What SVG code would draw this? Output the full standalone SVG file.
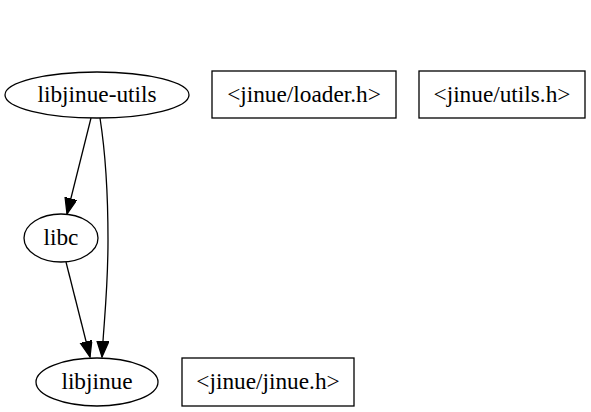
<svg xmlns="http://www.w3.org/2000/svg" width="591" height="412" viewBox="0 0 591 412">
<style>
.n{fill:#fff;stroke:#000;stroke-width:1.3}
.t{font-family:"Liberation Serif","Times New Roman",serif;font-size:23.3px;text-anchor:middle;fill:#000}
.e{fill:none;stroke:#000;stroke-width:1.3}
</style>
<defs>
<marker id="arr" markerUnits="userSpaceOnUse" markerWidth="18" markerHeight="14" refX="16" refY="6" orient="auto">
<polygon points="0,0 16,6 0,12" fill="#000" stroke="#000" stroke-width="1.3"/>
</marker>
</defs>
<rect width="591" height="412" fill="#fff"/>
<g id="edges">
<path class="e" d="M91,118 L67,214" marker-end="url(#arr)"/>
<path class="e" d="M100,118 C105,150 108,190 108,240 C108,290 104,320 102,357" marker-end="url(#arr)"/>
<path class="e" d="M66,262 L90,357" marker-end="url(#arr)"/>
</g>
<g id="libjinue-utils">
<ellipse class="n" cx="97" cy="95" rx="92" ry="23"/>
<text class="t" x="97" y="102">libjinue-utils</text>
</g>
<g id="loader-h">
<rect class="n" x="212" y="71" width="184" height="47"/>
<text class="t" x="304" y="102">&lt;jinue/loader.h&gt;</text>
</g>
<g id="utils-h">
<rect class="n" x="419" y="71" width="166" height="47"/>
<text class="t" x="502" y="102">&lt;jinue/utils.h&gt;</text>
</g>
<g id="libc">
<ellipse class="n" cx="61" cy="238" rx="37" ry="24"/>
<text class="t" x="61" y="245">libc</text>
</g>
<g id="libjinue">
<ellipse class="n" cx="97" cy="382" rx="61" ry="24"/>
<text class="t" x="97" y="389">libjinue</text>
</g>
<g id="jinue-h">
<rect class="n" x="182" y="358" width="172" height="48"/>
<text class="t" x="268" y="389">&lt;jinue/jinue.h&gt;</text>
</g>
</svg>
